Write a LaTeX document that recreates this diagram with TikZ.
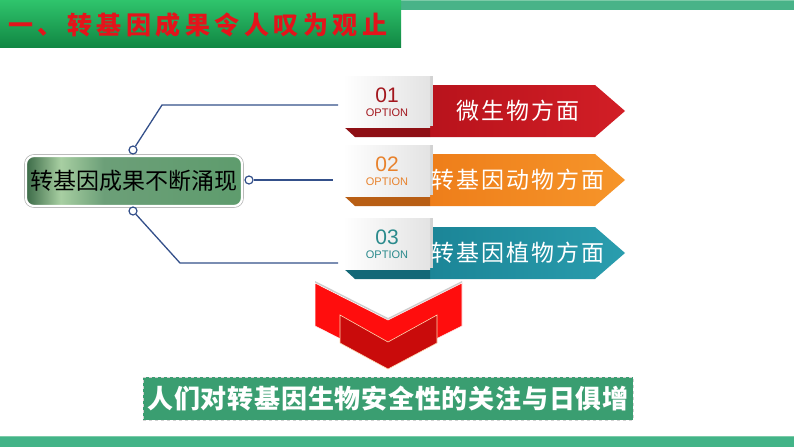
\documentclass[tikz,border=0pt]{standalone}
\usepackage{fontspec}
\newfontfamily\cjk{Noto Sans CJK SC}
\newfontfamily\cjktitle{Noto Sans CJK SC}[LetterSpace=18]
\newfontfamily\cjkband{Noto Sans CJK SC}[LetterSpace=9]
\newfontfamily\cjkbot{Noto Sans CJK SC}[LetterSpace=3]
\newfontfamily\digitfont{Liberation Sans}
\usetikzlibrary{calc}
\definecolor{stripgreen}{HTML}{48B388}
\definecolor{stripline}{HTML}{7CCBA8}
\definecolor{bannertop}{HTML}{2FC46C}
\definecolor{bannerbot}{HTML}{118743}
\definecolor{titlered}{HTML}{E3141B}
\definecolor{botgreen}{HTML}{43B488}
\definecolor{linkblue}{HTML}{34508A}
\definecolor{gA}{HTML}{3B6A47}
\definecolor{gB}{HTML}{A8CFA2}
\definecolor{gC}{HTML}{6C9F78}
\definecolor{gD}{HTML}{5E9C6D}
\definecolor{redA}{HTML}{B8131C}
\definecolor{redB}{HTML}{D21E26}
\definecolor{redD}{HTML}{8E0F14}
\definecolor{redT}{HTML}{A3171E}
\definecolor{orA}{HTML}{EE7E1A}
\definecolor{orB}{HTML}{F6952A}
\definecolor{orD}{HTML}{B85E14}
\definecolor{orT}{HTML}{E8822C}
\definecolor{teA}{HTML}{1B8597}
\definecolor{teB}{HTML}{2A9DAE}
\definecolor{teD}{HTML}{136877}
\definecolor{teT}{HTML}{2A8A8C}
\definecolor{concl}{HTML}{3A9E71}
\definecolor{chevA}{HTML}{FF0D0D}
\definecolor{chevB}{HTML}{C90B0B}
\pgfdeclarehorizontalshading{mainshade}{100bp}{color(0bp)=(gA); color(25bp)=(gA); color(33bp)=(gB); color(43bp)=(gC); color(75bp)=(gD); color(100bp)=(gD)}
\tikzset{
  titletext/.style={font=\cjktitle\bfseries\fontsize{25}{25}\selectfont, text=titlered, inner sep=0pt, anchor=west},
  mainbox/.style={rounded corners=8pt, minimum width=216pt, minimum height=50pt, shading=mainshade, draw=white, line width=2.2pt, preaction={draw=gray!60, line width=3.6pt}, font=\cjk\fontsize{23}{23}\selectfont, text=black, inner sep=0pt},
  dot/.style={circle, draw=linkblue, fill=white, line width=1.2pt, minimum size=8pt, inner sep=0pt},
  link/.style={draw=linkblue, line width=1.3pt},
  greybox/.style={minimum width=87pt, minimum height=51pt, inner sep=0pt, left color=white, right color=gray!22, draw=none},
  bandtext/.style={font=\cjkband\fontsize{23}{23}\selectfont, text=white, inner sep=0pt},
  numtext/.style={font=\digitfont\fontsize{21}{21}\selectfont, inner sep=0pt},
  opttext/.style={font=\digitfont\fontsize{11}{11}\selectfont, inner sep=0pt},
  conclbox/.style={minimum width=490pt, minimum height=43pt, fill=concl, draw=gray!35, dashed, line width=0.9pt, font=\cjkbot\bfseries\fontsize{26}{26}\selectfont, text=white, inner sep=0pt}
}
\begin{document}
\begin{tikzpicture}[x=1pt,y=-1pt]
\useasboundingbox (0,0) rectangle (794,447);
\fill[white] (0,0) rectangle (794,447);
% top strip and title banner
\fill[stripgreen] (0,0) rectangle (794,10);
\fill[stripline] (0,0) rectangle (794,1.2);
\shade[top color=bannertop, bottom color=bannerbot] (0,0) rectangle (401,47);
\node[titletext] (title) at (8,25) {一、转基因成果令人叹为观止};
% bottom strip
\fill[botgreen] (0,436) rectangle (794,447);
\fill[stripline] (0,436) rectangle (794,437.2);

% main node
\node[mainbox] (main) at (134,181) {转基因成果不断涌现};
\node[dot] (c1) at (133,150) {};
\node[dot] (c2) at (249,180) {};
\node[dot] (c3) at (133,211) {};

% option bands
\foreach \by/\ca/\cb/\cd/\ct/\num/\txt/\n in {85/redA/redB/redD/redT/01/微生物方面/1, 154/orA/orB/orD/orT/02/转基因动物方面/2, 227/teA/teB/teD/teT/03/转基因植物方面/3}{
  \shade[left color=\ca, right color=\cb] (430,\by) -- (595,\by) -- (625,\by+26) -- (595,\by+52) -- (430,\by+52) -- cycle;
  \fill[\cd] (343,\by+41) -- (430,\by+41) -- (430,\by+52) -- (355,\by+52) -- cycle;
  \fill[gray!35] (430,\by-9) rectangle (433,\by+41);
  \node[greybox] (g\n) at (386.5,\by+16.5) {};
  \node[numtext, text=\ct] (num\n) at (387,\by+10) {\num};
  \node[opttext, text=\ct] (opt\n) at (387,\by+28) {OPTION};
  \node[bandtext] (t\n) at (518,\by+26) {\txt};
}

% connectors
\coordinate (e1) at (338,105);
\coordinate (k1) at (162,105);
\coordinate (e2) at (333,180);
\coordinate (e3) at (338,263);
\coordinate (k3) at (180,263);
\draw[link] (c1) -- (k1) -- (e1);
\draw[link] (c2) -- (e2);
\draw[link] (c3) -- (k3) -- (e3);

% chevron
\fill[gray!40] (315,281) -- (388,318) -- (462,281) -- (462,284) -- (388,321) -- (315,284) -- cycle;
\filldraw[fill=chevA, draw=white, line width=0.6pt] (315,283) -- (388,320) -- (462,283) -- (462,326) -- (388,363) -- (315,326) -- cycle;
\filldraw[fill=chevB, draw=orange!30, line width=0.6pt] (340,315) -- (388,342) -- (437,315) -- (437,343) -- (388,369) -- (340,343) -- cycle;

% conclusion
\node[conclbox] (conc) at (388,398.5) {人们对转基因生物安全性的关注与日俱增};
\end{tikzpicture}
\end{document}
